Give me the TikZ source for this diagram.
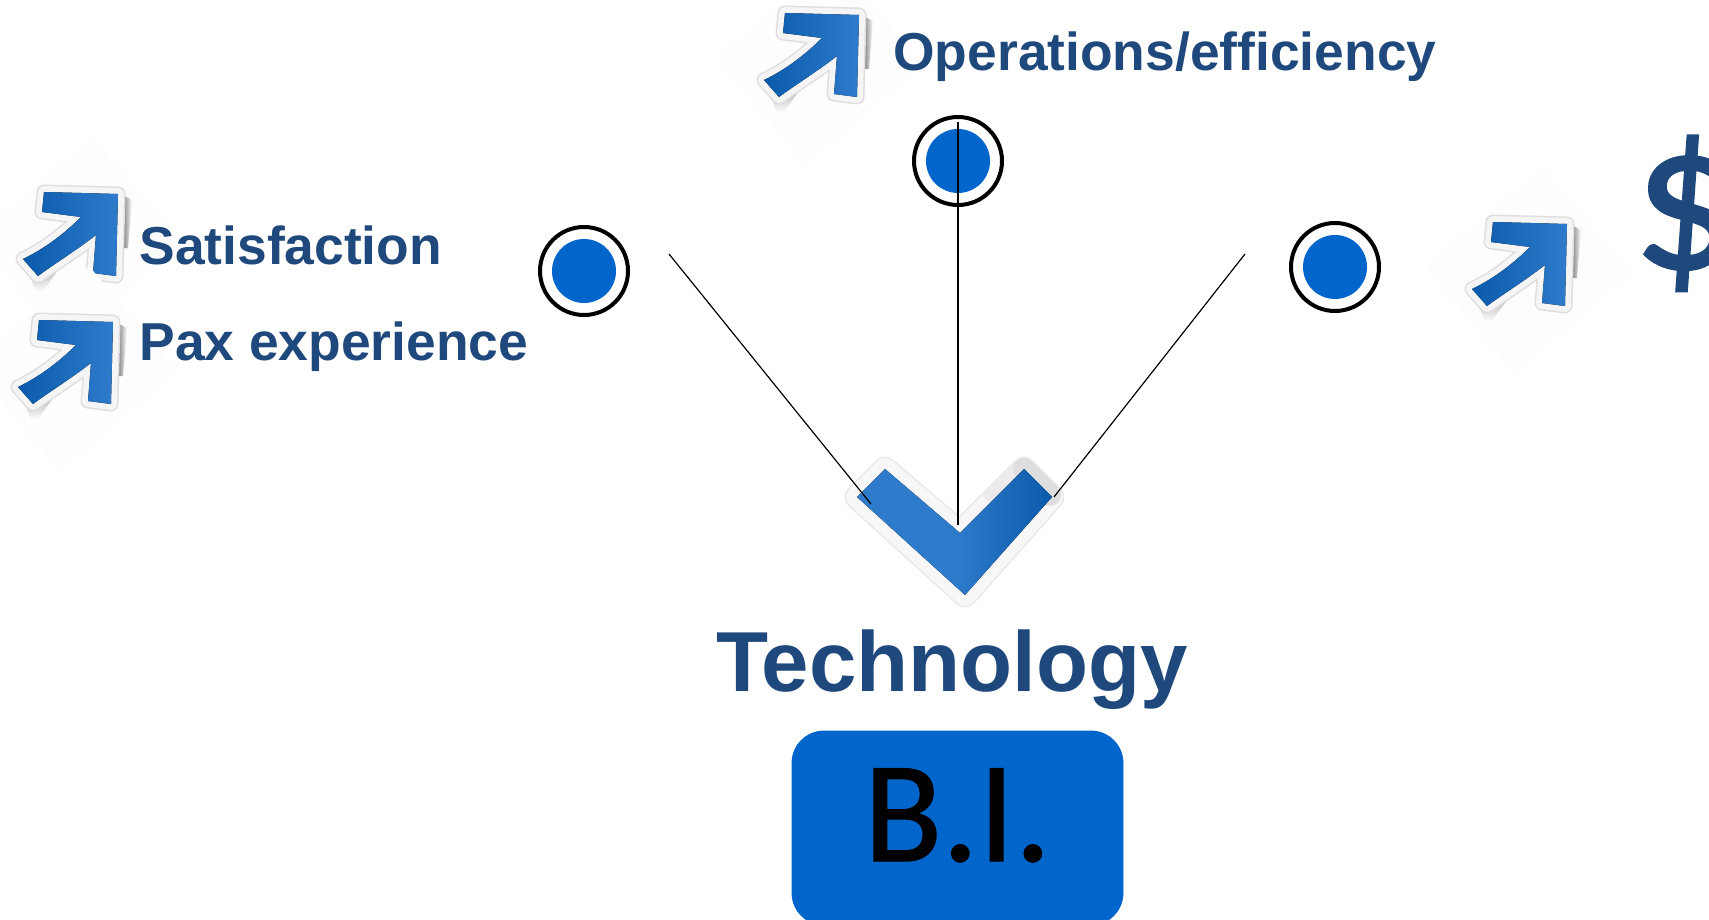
\documentclass[tikz,border=0pt]{standalone}
\usepackage{fontspec}
\setmainfont{Liberation Sans}
\newfontfamily\calibrifont{Carlito}[FakeBold=1]
\definecolor{titleblue}{HTML}{1F497D}
\definecolor{dotblue}{HTML}{0066CC}
\definecolor{stickdark}{HTML}{0A5AAB}
\definecolor{sticklight}{HTML}{2F7BCB}
\tikzset{
  textlabel/.style={text=titleblue,font=\bfseries\fontsize{26.7}{30}\selectfont,anchor=base west,inner sep=0pt},
  dotnode/.style={circle,draw=black,line width=2pt,fill=white,minimum size=44pt,inner sep=0pt,
    path picture={\fill[dotblue] (path picture bounding box.center) circle (32);}},
  linkline/.style={line width=.6pt,black},
  uppath/.style={insert path={(0,0) -- (74,2) -- (72,84) -- (49,81) -- (52,43) .. controls (30,60) and (10,72) .. (-6,84) -- (-21,67) .. controls (0,57) and (20,42) .. (37,25) -- (-2,20) -- cycle}},
  downpath/.style={insert path={(885,469) -- (960,533) -- (1024,469) -- (1052,497) -- (965,595) -- (857,497) -- cycle}},
  upsticker/.pic={
    \fill[black!.8] (50,-54) -- (138,51) -- (20,151) -- (-68,45) -- cycle;
    \shade[left color=black!55,right color=white] (78,3) -- (88,8) -- (84,56) -- (78,56) -- cycle;
    \shade[top color=black!35,bottom color=white] (-14,84) -- (20,70) -- (-2,100) -- (-8,100) -- cycle;
    \draw[uppath,line width=7.5pt,line join=round,black!13];
    \draw[uppath,line width=6pt,line join=round,black!4];
    \fill[uppath,left color=stickdark,right color=sticklight];
  }
}
\begin{document}
\begin{tikzpicture}[x=.5pt,y=-.5pt]
  \useasboundingbox (0,0) rectangle (1709,920);
  \pic at (44,192) {upsticker};
  \pic at (39,320) {upsticker};
  \pic at (785,13) {upsticker};
  \pic at (1493,222) {upsticker};
  \draw[downpath,line width=12.5pt,line join=round,black!9];
  \draw[downpath,line width=11pt,line join=round,black!3];
  \draw[line width=11pt,black!8] (990,503) -- (1024,469);
  \draw[line width=11pt,line cap=round,black!13] (1024,469) -- (1050,495);
  \fill[downpath,left color=sticklight,right color=stickdark,middle color=sticklight];
  \draw
    (584,271) node[dotnode] (cost){}
    (958,161) node[dotnode] (ops){}
    (1335,267) node[dotnode] (money){};
  \coordinate (leftend) at (669,254);
  \coordinate (leftfoot) at (871,504);
  \coordinate (midend) at (958,122);
  \coordinate (midfoot) at (958,525);
  \coordinate (rightend) at (1245,254);
  \coordinate (rightfoot) at (1054,497);
  \begin{scope}[linkline]
    \draw (leftend) to (leftfoot);
    \draw (midend) to (midfoot);
    \draw (rightend) to (rightfoot);
  \end{scope}
  \node[textlabel] (satisfaction) at (139,264) {Satisfaction};
  \node[textlabel] (pax) at (139,360) {Pax experience};
  \node[textlabel] (operations) at (893,71) {Operations/efficiency};
  \node[textlabel,font=\bfseries\fontsize{42.6}{46}\selectfont,anchor=base] (technology) at (952,691) {Technology};
  \node[anchor=base west,inner sep=0pt,text=titleblue,font=\calibrifont\fontsize{105}{105}\selectfont] (dollar) at (1632,268) {\symbol{36}};
  \node[draw=dotblue,fill=dotblue,rounded corners=16pt,minimum width=165.5pt,minimum height=97pt,inner sep=0pt,
    font=\calibrifont\fontsize{72}{72}\selectfont] (bi) at (957.5,828) {\raisebox{-16.5pt}[0pt][0pt]{B.I.}};
\end{tikzpicture}
\end{document}
